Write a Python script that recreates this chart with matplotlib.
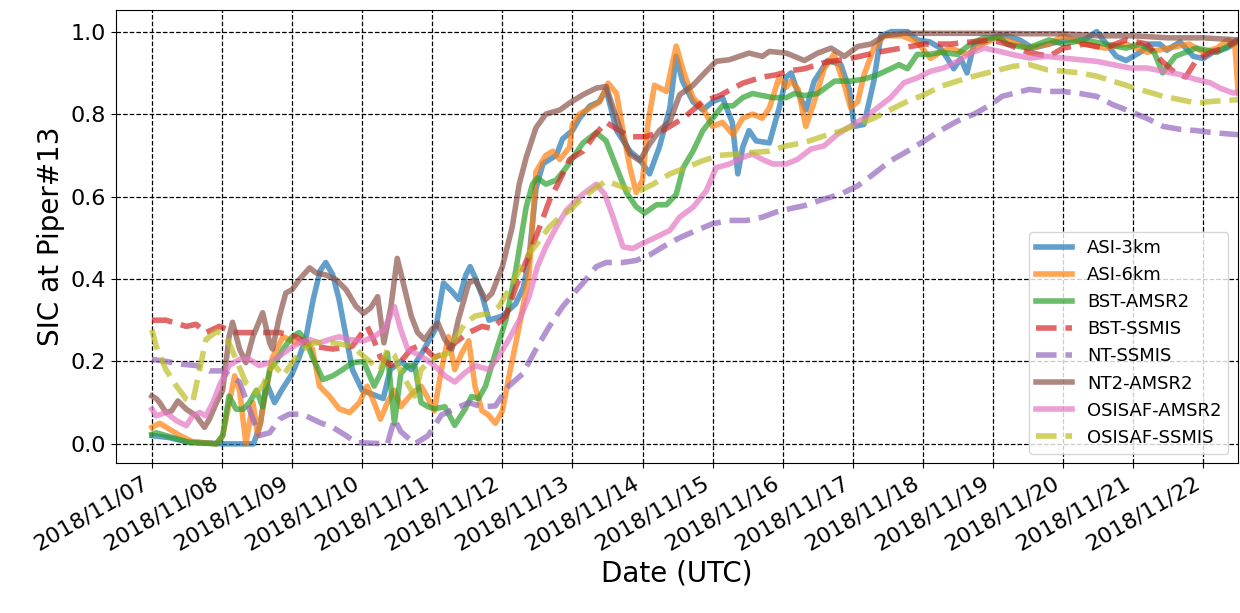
import numpy as np
import matplotlib
matplotlib.use("Agg")
import matplotlib.pyplot as plt
import matplotlib.dates as mdates

# days since 2018-11-07 00:00 UTC and SIC values
asi3_days = [0, 0.25, 0.5, 1.0, 1.45, 1.55, 1.63, 1.75, 1.85, 2.0, 2.1, 2.2, 2.3, 2.4, 2.48, 2.58, 2.67, 2.77, 2.86,
             3.0, 3.15, 3.3, 3.4, 3.55, 3.7, 3.85, 3.95, 4.05, 4.16, 4.28, 4.38, 4.48, 4.54, 4.62, 4.71, 4.81, 5.0,
             5.19, 5.3, 5.38, 5.48, 5.58, 5.77, 5.86, 6.0, 6.1, 6.25, 6.38, 6.48, 6.63, 6.82, 6.96, 7.1, 7.24, 7.39,
             7.48, 7.57, 7.72, 7.86, 8.0, 8.14, 8.28, 8.36, 8.43, 8.52, 8.62, 8.81, 8.95, 9.05, 9.12, 9.2, 9.33,
             9.45, 9.64, 9.83, 9.95, 10.02, 10.16, 10.3, 10.4, 10.55, 10.78, 10.92, 11.1, 11.25, 11.35, 11.44,
             11.54, 11.63, 11.73, 11.87, 12.06, 12.2, 12.38, 12.57, 12.8, 13.05, 13.3, 13.48, 13.62, 13.76, 13.9,
             14.1, 14.24, 14.38, 14.48, 14.67, 14.86, 15.0, 15.14, 15.33, 15.5]
asi3_vals = [0.02, 0.015, 0.005, 0.0, 0.0, 0.05, 0.15, 0.10, 0.13, 0.17, 0.21, 0.26, 0.35, 0.42, 0.44, 0.41, 0.35, 0.26, 0.18,
             0.13, 0.12, 0.11, 0.18, 0.20, 0.18, 0.22, 0.25, 0.28, 0.39, 0.37, 0.35, 0.41, 0.43, 0.40, 0.36, 0.30, 0.31,
             0.34, 0.38, 0.45, 0.62, 0.68, 0.70, 0.74, 0.76, 0.79, 0.82, 0.83, 0.86, 0.76, 0.71, 0.69, 0.655, 0.72, 0.815,
             0.94, 0.88, 0.83, 0.81, 0.83, 0.84, 0.78, 0.655, 0.72, 0.76, 0.735, 0.73, 0.815, 0.89, 0.90, 0.86, 0.81,
             0.88, 0.93, 0.92, 0.86, 0.77, 0.775, 0.88, 0.99, 1.0, 1.0, 0.98, 0.975, 0.96, 0.935, 0.91,
             0.935, 0.90, 0.97, 0.975, 0.99, 0.99, 0.98, 0.96, 0.97, 0.98, 0.98, 1.0, 0.97, 0.94, 0.93,
             0.95, 0.97, 0.97, 0.955, 0.975, 0.94, 0.935, 0.95, 0.96, 0.975]

asi6_days = [0, 0.11, 0.4, 0.58, 0.92, 1.01, 1.18, 1.25, 1.34, 1.44, 1.51, 1.63, 1.72, 1.87, 2.05, 2.2, 2.29, 2.39,
             2.53, 2.67, 2.82, 2.96, 3.07, 3.17, 3.26, 3.36, 3.46, 3.55, 3.7, 3.84, 3.94, 4.03, 4.13, 4.23, 4.32,
             4.42, 4.52, 4.61, 4.71, 4.8, 4.9, 5.0, 5.09, 5.24, 5.38, 5.48, 5.62, 5.72, 5.82, 5.96, 6.0, 6.1, 6.25,
             6.39, 6.51, 6.63, 6.72, 6.82, 6.91, 7.0, 7.08, 7.17, 7.34, 7.48, 7.6, 7.72, 7.86, 8.0, 8.14, 8.29,
             8.43, 8.57, 8.71, 8.81, 8.95, 9.05, 9.12, 9.22, 9.33, 9.45, 9.59, 9.73, 9.88, 9.97, 10.07, 10.16,
             10.3, 10.45, 10.7, 10.92, 11.11, 11.25, 11.4, 11.63, 11.85, 12.06, 12.2, 12.5, 12.8, 13.0, 13.3,
             13.6, 13.9, 14.2, 14.5, 14.8, 15.0, 15.2, 15.35, 15.45, 15.5]
asi6_vals = [0.04, 0.05, 0.02, 0.005, 0.0, 0.02, 0.165, 0.13, 0.0, 0.10, 0.02, 0.13, 0.21, 0.26, 0.245, 0.25, 0.23, 0.14,
             0.116, 0.085, 0.076, 0.10, 0.14, 0.10, 0.06, 0.10, 0.13, 0.09, 0.12, 0.14, 0.11, 0.08, 0.18, 0.26, 0.18,
             0.22, 0.25, 0.14, 0.08, 0.07, 0.05, 0.08, 0.16, 0.285, 0.41, 0.66, 0.70, 0.71, 0.69, 0.72, 0.775, 0.80, 0.815,
             0.83, 0.875, 0.85, 0.76, 0.67, 0.61, 0.64, 0.78, 0.87, 0.855, 0.965, 0.895, 0.84, 0.815, 0.77, 0.78, 0.75,
             0.79, 0.80, 0.79, 0.815, 0.89, 0.865, 0.88, 0.86, 0.77, 0.83, 0.91, 0.945, 0.87, 0.815, 0.83, 0.895,
             0.96, 0.99, 0.99, 0.975, 0.935, 0.95, 0.96, 0.945, 0.97, 0.985, 0.98, 0.96, 0.97, 0.99, 0.97,
             0.96, 0.97, 0.95, 0.96, 0.97, 0.95, 0.96, 0.98, 0.97, 0.85]

bsta_days = [0, 0.06, 0.3, 0.54, 0.92, 1.01, 1.1, 1.2, 1.3, 1.39, 1.49, 1.58, 1.68, 1.77, 1.87, 2.0, 2.1, 2.2, 2.29,
             2.44, 2.58, 2.72, 2.86, 3.02, 3.17, 3.26, 3.36, 3.46, 3.55, 3.65, 3.75, 3.84, 3.94, 4.03, 4.18, 4.32,
             4.47, 4.56, 4.66, 4.76, 4.9, 5.05, 5.19, 5.34, 5.43, 5.5, 5.62, 5.77, 5.91, 6.03, 6.15, 6.34, 6.48,
             6.63, 6.77, 6.91, 7.03, 7.2, 7.34, 7.48, 7.58, 7.72, 7.86, 8.0, 8.14, 8.29, 8.43, 8.57, 8.71, 8.86,
             9.05, 9.17, 9.31, 9.5, 9.74, 9.97, 10.16, 10.35, 10.54, 10.66, 10.78, 10.92, 11.1, 11.25, 11.49,
             11.68, 11.87, 12.1, 12.2, 12.5, 12.8, 13.0, 13.3, 13.6, 13.9, 14.1, 14.3, 14.42, 14.6, 14.9, 15.2, 15.5]
bsta_vals = [0.023, 0.027, 0.015, 0.003, 0.0, 0.02, 0.116, 0.084, 0.084, 0.10, 0.13, 0.09, 0.18, 0.20, 0.23, 0.26, 0.27, 0.25, 0.21,
             0.156, 0.165, 0.18, 0.197, 0.20, 0.14, 0.17, 0.22, 0.05, 0.17, 0.19, 0.19, 0.10, 0.09, 0.085, 0.09, 0.045,
             0.085, 0.115, 0.11, 0.14, 0.22, 0.30, 0.42, 0.575, 0.63, 0.645, 0.63, 0.64, 0.67, 0.70, 0.73, 0.755, 0.735,
             0.67, 0.61, 0.575, 0.56, 0.58, 0.58, 0.605, 0.67, 0.71, 0.76, 0.79, 0.82, 0.82, 0.84, 0.85, 0.845, 0.84,
             0.84, 0.85, 0.845, 0.85, 0.88, 0.88, 0.885, 0.895, 0.91, 0.92, 0.91, 0.945, 0.945, 0.95, 0.945,
             0.97, 0.985, 0.985, 0.97, 0.96, 0.98, 0.97, 0.98, 0.97, 0.96, 0.97, 0.95, 0.90, 0.94, 0.96, 0.95, 0.98]

bsts_days = [0, 0.2, 0.49, 0.63, 0.77, 0.96, 1.2, 1.49, 1.82, 2.05, 2.29, 2.58, 2.86, 3.07, 3.17, 3.26, 3.41,
             3.55, 3.7, 3.84, 4.03, 4.18, 4.32, 4.52, 4.71, 4.85, 5.05, 5.19, 5.38, 5.53, 5.67, 5.82, 5.96, 6.15,
             6.32, 6.48, 6.67, 6.82, 7.05, 7.29, 7.58, 7.86, 8.1, 8.43, 8.71, 8.9, 9.1, 9.31, 9.59, 9.97, 10.35,
             10.69, 11.02, 11.4, 11.68, 11.97, 12.2, 12.5, 12.8, 13.0, 13.3, 13.6, 13.9, 14.2, 14.4, 14.6, 14.75,
             14.9, 15.1, 15.3, 15.5]
bsts_vals = [0.30, 0.30, 0.285, 0.29, 0.27, 0.285, 0.27, 0.27, 0.27, 0.26, 0.237, 0.23, 0.237, 0.285, 0.25, 0.21, 0.19,
             0.20, 0.23, 0.24, 0.21, 0.22, 0.245, 0.27, 0.285, 0.28, 0.31, 0.38, 0.46, 0.525, 0.59, 0.64, 0.69, 0.71,
             0.75, 0.78, 0.76, 0.745, 0.745, 0.76, 0.79, 0.83, 0.845, 0.875, 0.89, 0.895, 0.905, 0.91, 0.925, 0.935, 0.95,
             0.96, 0.97, 0.97, 0.975, 0.98, 0.97, 0.95, 0.94, 0.96, 0.97, 0.96, 0.98, 0.97, 0.93, 0.90, 0.89,
             0.93, 0.95, 0.96, 0.98]

nts_days = [0, 0.2, 0.44, 0.63, 0.82, 1.01, 1.25, 1.39, 1.53, 1.68, 1.82, 1.96, 2.15, 2.39, 2.58, 2.77, 2.91,
            3.36, 3.46, 3.55, 3.75, 3.94, 4.13, 4.32, 4.52, 4.71, 4.9, 5.09, 5.29, 5.48, 5.67, 5.86, 6.06, 6.15,
            6.34, 6.48, 6.72, 6.91, 7.1, 7.29, 7.53, 7.77, 8.0, 8.24, 8.48, 8.71, 8.9, 9.09, 9.31, 9.59, 9.83,
            10.07, 10.3, 10.54, 10.78, 11.02, 11.25, 11.49, 11.73, 11.97, 12.13, 12.29, 12.52, 12.76, 13.0,
            13.24, 13.48, 13.71, 13.95, 14.19, 14.43, 14.67, 14.9, 15.14, 15.5]
nts_vals = [0.205, 0.20, 0.193, 0.19, 0.177, 0.177, 0.15, 0.084, 0.02, 0.027, 0.06, 0.072, 0.072, 0.052, 0.04, 0.02, 0.003,
            0.0, 0.06, 0.03, 0.0, 0.02, 0.07, 0.085, 0.10, 0.09, 0.092, 0.14, 0.17, 0.23, 0.285, 0.333, 0.373, 0.39,
            0.43, 0.44, 0.44, 0.445, 0.458, 0.478, 0.50, 0.518, 0.534, 0.542, 0.542, 0.55, 0.562, 0.57, 0.578, 0.594, 0.606,
            0.626, 0.655, 0.687, 0.71, 0.735, 0.76, 0.783, 0.80, 0.823, 0.843, 0.85, 0.86, 0.855, 0.855,
            0.85, 0.843, 0.823, 0.807, 0.79, 0.77, 0.763, 0.76, 0.755, 0.75]

nt2_days = [0, 0.06, 0.11, 0.2, 0.28, 0.37, 0.49, 0.63, 0.75, 0.82, 0.92, 1.01, 1.1, 1.15, 1.25, 1.34, 1.44, 1.58,
            1.68, 1.72, 1.82, 1.91, 2.0, 2.1, 2.25, 2.34, 2.48, 2.63, 2.77, 2.91, 3.02, 3.12, 3.22, 3.31, 3.41,
            3.5, 3.6, 3.7, 3.79, 3.89, 3.99, 4.08, 4.18, 4.28, 4.37, 4.52, 4.61, 4.76, 4.85, 5.0, 5.14, 5.24,
            5.34, 5.48, 5.62, 5.82, 5.96, 6.15, 6.34, 6.48, 6.58, 6.72, 6.82, 6.96, 7.1, 7.24, 7.39, 7.53, 7.72,
            7.91, 8.05, 8.24, 8.52, 8.71, 8.81, 9.05, 9.31, 9.5, 9.69, 9.88, 10.07, 10.26, 10.45, 10.73, 11.4,
            12.0, 12.5, 13.0, 13.5, 14.0, 14.5, 15.0, 15.5]
nt2_vals = [0.116, 0.11, 0.10, 0.076, 0.08, 0.104, 0.084, 0.068, 0.04, 0.06, 0.10, 0.13, 0.26, 0.295, 0.23, 0.197, 0.26, 0.318,
            0.245, 0.23, 0.31, 0.366, 0.374, 0.398, 0.427, 0.415, 0.41, 0.398, 0.374, 0.334, 0.317, 0.33, 0.357, 0.245, 0.333,
            0.45, 0.38, 0.31, 0.27, 0.253, 0.277, 0.293, 0.253, 0.23, 0.30, 0.39, 0.398, 0.35, 0.365, 0.43, 0.526, 0.63,
            0.695, 0.767, 0.80, 0.81, 0.827, 0.847, 0.863, 0.867, 0.815, 0.743, 0.703, 0.687, 0.727, 0.76, 0.783, 0.847, 0.87,
            0.904, 0.928, 0.932, 0.948, 0.94, 0.952, 0.948, 0.93, 0.948, 0.96, 0.94, 0.964, 0.97, 0.99, 0.996, 0.996,
            0.996, 0.995, 0.995, 0.99, 0.99, 0.985, 0.985, 0.98]

osa_days = [0, 0.06, 0.2, 0.35, 0.49, 0.58, 0.68, 0.77, 0.87, 0.96, 1.1, 1.25, 1.39, 1.53, 1.68, 1.82, 1.96, 2.1,
            2.25, 2.39, 2.53, 2.67, 2.82, 3.02, 3.17, 3.31, 3.46, 3.55, 3.65, 3.84, 4.03, 4.18, 4.32, 4.47, 4.61,
            4.81, 4.95, 5.09, 5.24, 5.38, 5.5, 5.62, 5.77, 5.91, 6.03, 6.15, 6.34, 6.46, 6.58, 6.72, 6.86, 7.0,
            7.2, 7.39, 7.53, 7.72, 7.91, 8.05, 8.24, 8.43, 8.57, 8.71, 8.86, 9.05, 9.21, 9.4, 9.59, 9.78, 9.97,
            10.16, 10.35, 10.54, 10.73, 10.92, 11.11, 11.3, 11.49, 11.68, 11.87, 12.1, 12.29, 12.52, 12.76, 13.0,
            13.24, 13.48, 13.71, 13.95, 14.19, 14.43, 14.67, 14.9, 15.1, 15.24, 15.43, 15.5]
osa_vals = [0.084, 0.068, 0.076, 0.056, 0.044, 0.068, 0.076, 0.068, 0.10, 0.14, 0.19, 0.205, 0.205, 0.19, 0.197, 0.213, 0.23, 0.245,
            0.253, 0.245, 0.253, 0.26, 0.253, 0.25, 0.26, 0.277, 0.333, 0.277, 0.229, 0.213, 0.19, 0.165, 0.15, 0.173, 0.19,
            0.18, 0.213, 0.253, 0.30, 0.357, 0.43, 0.478, 0.526, 0.566, 0.586, 0.606, 0.63, 0.606, 0.55, 0.478, 0.474, 0.486,
            0.502, 0.518, 0.55, 0.574, 0.614, 0.67, 0.679, 0.695, 0.703, 0.69, 0.679, 0.679, 0.69, 0.715, 0.723, 0.751, 0.771,
            0.79, 0.815, 0.84, 0.876, 0.888, 0.904, 0.912, 0.928, 0.948, 0.96, 0.952, 0.944, 0.936, 0.94, 0.936,
            0.932, 0.928, 0.92, 0.912, 0.912, 0.904, 0.896, 0.884, 0.876, 0.863, 0.851, 0.855]

oss_days = [0, 0.06, 0.2, 0.35, 0.49, 0.58, 0.68, 0.77, 0.92, 1.06, 1.2, 1.34, 1.49, 1.58, 1.72, 1.87, 2.0, 2.15,
            2.29, 2.58, 2.86, 3.07, 3.26, 3.36, 3.46, 3.55, 3.75, 3.84, 3.94, 4.08, 4.23, 4.32, 4.47, 4.61, 4.81,
            4.95, 5.09, 5.24, 5.38, 5.53, 5.67, 5.82, 5.96, 6.15, 6.34, 6.48, 6.67, 6.91, 7.15, 7.39, 7.62, 7.86,
            8.1, 8.34, 8.57, 8.81, 9.05, 9.31, 9.59, 9.83, 10.07, 10.3, 10.54, 10.78, 11.02, 11.25, 11.49, 11.73,
            12.01, 12.29, 12.52, 12.76, 13.0, 13.24, 13.48, 13.71, 13.95, 14.19, 14.43, 14.67, 14.9, 15.14, 15.5]
oss_vals = [0.277, 0.237, 0.18, 0.14, 0.108, 0.10, 0.18, 0.253, 0.273, 0.26, 0.205, 0.148, 0.124, 0.14, 0.197, 0.165, 0.197, 0.229,
            0.245, 0.245, 0.237, 0.205, 0.18, 0.229, 0.215, 0.173, 0.116, 0.18, 0.197, 0.213, 0.22, 0.253, 0.293, 0.31, 0.317,
            0.333, 0.373, 0.42, 0.46, 0.494, 0.526, 0.55, 0.566, 0.598, 0.622, 0.638, 0.626, 0.61, 0.63, 0.655, 0.67, 0.687,
            0.70, 0.703, 0.707, 0.71, 0.723, 0.731, 0.747, 0.759, 0.775, 0.79, 0.811, 0.831, 0.847, 0.867, 0.88, 0.892,
            0.904, 0.916, 0.92, 0.908, 0.904, 0.90, 0.892, 0.88, 0.867, 0.855, 0.843, 0.835, 0.827, 0.831, 0.835]

series_names = ["ASI-3km", "ASI-6km", "BST-AMSR2", "BST-SSMIS", "NT-SSMIS",
                "NT2-AMSR2", "OSISAF-AMSR2", "OSISAF-SSMIS"]
series_days = [asi3_days, asi6_days, bsta_days, bsts_days, nts_days, nt2_days, osa_days, oss_days]
series_vals = [asi3_vals, asi6_vals, bsta_vals, bsts_vals, nts_vals, nt2_vals, osa_vals, oss_vals]
series_styles = ["-", "-", "-", "--", "--", "-", "-", "--"]
series_colors = ["tab:blue", "tab:orange", "tab:green", "tab:red", "tab:purple",
                 "tab:brown", "tab:pink", "tab:olive"]

start = np.datetime64("2018-11-07T00:00")
tick_dates = [np.datetime64("2018-11-%02d" % d) for d in range(7, 23)]

def to_dt(days):
    return start + (np.asarray(days) * 24 * 60).round().astype("timedelta64[m]")

fig = plt.figure(figsize=(12.4, 6.13), dpi=100)
ax = fig.add_axes([0.0935, 0.245, 0.9045, 0.739])
for i, name in enumerate(series_names):
    ax.plot(to_dt(series_days[i]), series_vals[i], series_styles[i], color=series_colors[i],
            lw=4, alpha=0.7, label=name)

ax.set_xlim(start - np.timedelta64(740, "m"), start + np.timedelta64(int(15.49 * 1440), "m"))
ax.set_ylim(-0.046, 1.053)
ax.set_xticks(tick_dates)
ax.xaxis.set_major_formatter(mdates.DateFormatter("%Y/%m/%d"))
ax.set_yticks([0.0, 0.2, 0.4, 0.6, 0.8, 1.0])
ax.tick_params(axis="both", labelsize=16)
for lab in ax.get_xticklabels():
    lab.set_rotation(30)
    lab.set_ha("right")
ax.grid(True, color="k", linestyle="--", linewidth=0.9)
ax.set_ylabel("SIC at Piper#13", fontsize=20)
ax.set_xlabel("Date (UTC)", fontsize=20)
ax.legend(loc="lower right", fontsize=13)
fig.savefig("out.png", dpi=100)
